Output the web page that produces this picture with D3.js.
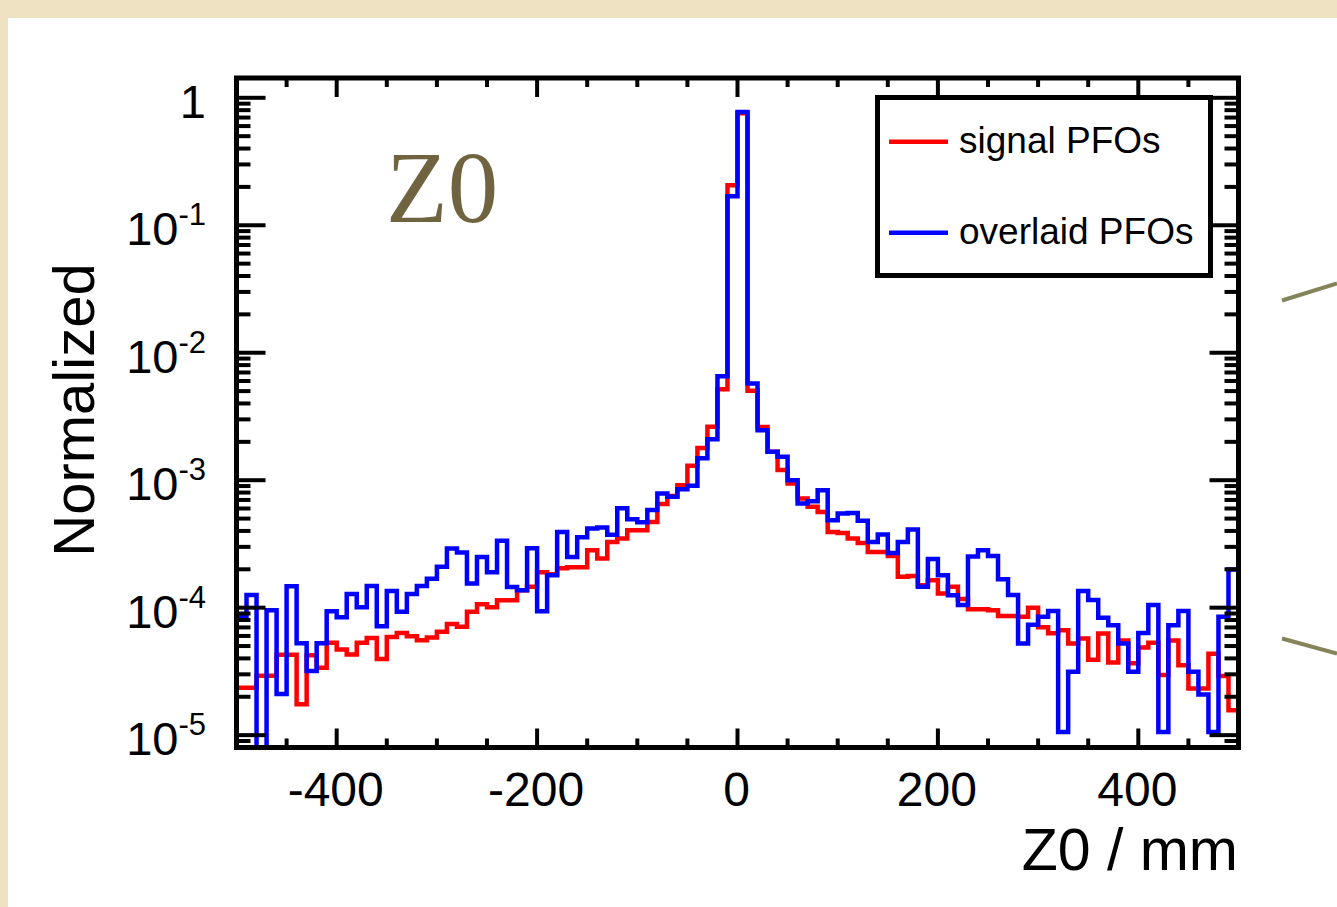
<!DOCTYPE html>
<html>
<head>
<meta charset="utf-8">
<script src="https://cdn.jsdelivr.net/npm/d3@7"></script>
<style>
  html, body { margin: 0; padding: 0; background: #efe2c2; }
  svg { display: block; }
</style>
</head>
<body>
<svg id="canvas" width="1337" height="907"></svg>
<script>
// Z0 histogram, 100 bins of 10 mm from -500 to 500 (normalized)

let zMin = -500
let zMax = 500
let binWidth = 10

let signalPFOs = [
  2.35e-5, 2.35e-5, 2.92e-5, 2.92e-5, 4.28e-5, 4.28e-5, 1.75e-5, 4.24e-5, 3.38e-5, 5.30e-5,
  4.70e-5, 4.30e-5, 5.30e-5, 5.77e-5, 3.96e-5, 5.90e-5, 6.34e-5, 5.97e-5, 5.56e-5, 5.84e-5,
  6.46e-5, 7.43e-5, 7.07e-5, 9.27e-5, 1.065e-4, 1.01e-4, 1.145e-4, 1.145e-4, 1.37e-4, 1.46e-4,
  1.90e-4, 1.83e-4, 2.04e-4, 2.08e-4, 2.08e-4, 2.82e-4, 2.43e-4, 3.28e-4, 3.49e-4, 4.05e-4,
  4.05e-4, 4.71e-4, 6.52e-4, 7.52e-4, 9.14e-4, 1.30e-3, 1.79e-3, 2.63e-3, 5.17e-3, 0.206,
  0.755, 5.04e-3, 2.62e-3, 1.67e-3, 1.20e-3, 9.42e-4, 7.18e-4, 6.18e-4, 5.64e-4, 3.93e-4,
  3.86e-4, 3.49e-4, 3.22e-4, 2.74e-4, 2.74e-4, 2.54e-4, 1.75e-4, 1.77e-4, 1.50e-4, 1.64e-4,
  1.29e-4, 1.46e-4, 1.17e-4, 9.73e-5, 9.70e-5, 9.55e-5, 8.61e-5, 8.61e-5, 8.47e-5, 1.00e-4,
  7.03e-5, 6.31e-5, 6.66e-5, 5.24e-5, 5.73e-5, 3.90e-5, 6.28e-5, 3.72e-5, 5.53e-5, 3.67e-5,
  4.88e-5, 5.30e-5, 2.96e-5, 5.53e-5, 3.54e-5, 2.32e-5, 2.32e-5, 4.35e-5, 2.91e-5, 1.57e-5
]

let overlaidPFOs = [
  8.47e-5, 1.26e-4, 0, 9.55e-5, 2.10e-5, 1.47e-4, 5.27e-5, 3.18e-5, 5.27e-5, 9.39e-5,
  8.42e-5, 1.28e-4, 1.01e-4, 1.48e-4, 7.16e-5, 1.35e-4, 9.27e-5, 1.28e-4, 1.48e-4, 1.69e-4,
  2.09e-4, 2.91e-4, 2.71e-4, 1.55e-4, 2.50e-4, 1.90e-4, 3.35e-4, 1.45e-4, 1.37e-4, 2.93e-4,
  9.39e-5, 1.80e-4, 3.93e-4, 2.50e-4, 3.57e-4, 4.18e-4, 4.26e-4, 3.74e-4, 6.03e-4, 4.94e-4,
  4.67e-4, 5.85e-4, 7.87e-4, 7.43e-4, 8.50e-4, 9.06e-4, 1.49e-3, 2.10e-3, 6.55e-3, 0.169,
  0.774, 5.73e-3, 2.47e-3, 1.67e-3, 1.53e-3, 1.00e-3, 6.56e-4, 6.84e-4, 8.35e-4, 4.86e-4,
  5.48e-4, 5.54e-4, 4.80e-4, 3.28e-4, 3.75e-4, 2.69e-4, 3.28e-4, 4.10e-4, 1.46e-4, 2.41e-4,
  1.80e-4, 1.25e-4, 1.05e-4, 2.52e-4, 2.82e-4, 2.54e-4, 1.67e-4, 1.26e-4, 5.24e-5, 7.36e-5,
  8.47e-5, 9.42e-5, 1.06e-5, 3.14e-5, 1.35e-4, 1.15e-4, 8.32e-5, 7.29e-5, 5.24e-5, 3.14e-5,
  6.34e-5, 1.05e-4, 1.06e-5, 7.29e-5, 9.42e-5, 3.14e-5, 2.08e-5, 1.06e-5, 8.47e-5, 1.99e-4
]

let xTickValues = [-400, -200, 0, 200, 400]
let yTickValues = [1, 1e-1, 1e-2, 1e-3, 1e-4, 1e-5]
let yTickLabels = ['1', '10|-1', '10|-2', '10|-3', '10|-4', '10|-5']

let legendNames = ['signal PFOs', 'overlaid PFOs']
let legendColors = ['#ff0000', '#0000ff']

let yMin = 8.0e-6
let yMax = 1.43

let canvas = d3.select('#canvas')

// white slide area
canvas.append('rect')
  .attr('x', 8).attr('y', 18)
  .attr('width', 1329).attr('height', 889)
  .attr('fill', '#ffffff')

let plot = { left: 236.5, right: 1238.5, top: 78, bottom: 747.5 }

let xScale = d3.scaleLinear()
  .domain([zMin, zMax])
  .range([plot.left, plot.right])

let yScale = d3.scaleLog()
  .domain([yMin, yMax])
  .range([plot.bottom, plot.top])

canvas.append('clipPath').attr('id', 'plotClip')
  .append('rect')
  .attr('x', plot.left).attr('y', plot.top)
  .attr('width', plot.right - plot.left)
  .attr('height', plot.bottom - plot.top)

// step outline of a histogram
let stepPoints = (values) => {
  let pts = [[xScale(zMin), yScale(yMin)]]
  values.forEach((v, i) => {
    let lo = zMin + i * binWidth
    let yy = yScale(Math.max(v, yMin))
    pts.push([xScale(lo), yy])
    pts.push([xScale(lo + binWidth), yy])
  })
  pts.push([xScale(zMax), yScale(yMin)])
  return pts
}

let line = d3.line()

let hists = canvas.append('g').attr('clip-path', 'url(#plotClip)')
;[signalPFOs, overlaidPFOs].forEach((values, k) => {
  hists.append('path')
    .attr('d', line(stepPoints(values)))
    .attr('fill', 'none')
    .attr('stroke', legendColors[k])
    .attr('stroke-width', 4.5)
    .attr('stroke-linejoin', 'miter')
})

// ticks (ROOT style, on all four sides)
let ticks = canvas.append('g').attr('stroke', '#000').attr('stroke-width', 4)

d3.range(zMin, zMax + 1, 50).forEach((v) => {
  let len = v % 200 === 0 ? 19 : 9
  let xx = xScale(v)
  ticks.append('line').attr('x1', xx).attr('x2', xx)
    .attr('y1', plot.bottom).attr('y2', plot.bottom - len)
  ticks.append('line').attr('x1', xx).attr('x2', xx)
    .attr('y1', plot.top).attr('y2', plot.top + len)
})

yScale.ticks().forEach((v) => {
  let mant = v / Math.pow(10, Math.floor(Math.log10(v) + 1e-9))
  let major = Math.abs(mant - 1) < 1e-6
  let len = major ? 29 : 14
  let yy = yScale(v)
  ticks.append('line').attr('x1', plot.left).attr('x2', plot.left + len)
    .attr('y1', yy).attr('y2', yy)
  ticks.append('line').attr('x1', plot.right).attr('x2', plot.right - len)
    .attr('y1', yy).attr('y2', yy)
})

// frame
canvas.append('rect')
  .attr('x', plot.left).attr('y', plot.top)
  .attr('width', plot.right - plot.left)
  .attr('height', plot.bottom - plot.top)
  .attr('fill', 'none')
  .attr('stroke', '#000')
  .attr('stroke-width', 5)

let font = "'Liberation Sans', Arial, Helvetica, sans-serif"

// x tick labels
canvas.append('g').selectAll('text')
  .data(xTickValues)
  .enter()
  .append('text')
  .attr('x', (d) => xScale(d) - 1)
  .attr('y', 806)
  .attr('text-anchor', 'middle')
  .attr('font-family', font)
  .attr('font-size', 48)
  .text((d) => d)

// y tick labels with superscript exponents
yTickValues.forEach((v, i) => {
  let parts = yTickLabels[i].split('|')
  let t = canvas.append('text')
    .attr('x', 206)
    .attr('y', yScale(v) + 20)
    .attr('text-anchor', 'end')
    .attr('font-family', font)
    .attr('font-size', 47)
  t.append('tspan').text(parts[0])
  if (parts[1]) {
    t.append('tspan')
      .attr('font-size', 31)
      .attr('dy', -20)
      .text(parts[1])
  }
})

// axis titles
canvas.append('text')
  .attr('transform', 'translate(94, 410) rotate(-90)')
  .attr('text-anchor', 'middle')
  .attr('font-family', font)
  .attr('font-size', 58)
  .text('Normalized')

canvas.append('text')
  .attr('x', 1238)
  .attr('y', 870)
  .attr('text-anchor', 'end')
  .attr('font-family', font)
  .attr('font-size', 59)
  .text('Z0 / mm')

// Z0 annotation
canvas.append('text')
  .attr('x', 386)
  .attr('y', 222)
  .attr('font-family', "'Liberation Serif', 'Times New Roman', serif")
  .attr('font-size', 101)
  .attr('fill', '#706340')
  .text('Z0')

// legend
let legend = canvas.append('g')
legend.append('rect')
  .attr('x', 877.5).attr('y', 97.5)
  .attr('width', 333).attr('height', 178)
  .attr('fill', '#fff')
  .attr('stroke', '#000')
  .attr('stroke-width', 5)

legendNames.forEach((name, i) => {
  let yy = 141.7 + i * 91
  legend.append('line')
    .attr('x1', 889).attr('x2', 948)
    .attr('y1', yy).attr('y2', yy)
    .attr('stroke', legendColors[i])
    .attr('stroke-width', 4.5)
  legend.append('text')
    .attr('x', 959)
    .attr('y', yy + 11)
    .attr('font-family', font)
    .attr('font-size', 37)
    .text(name)
})

// callout lines at the right edge of the slide
let callouts = [[[1282, 300.5], [1337, 283.5]], [[1282, 638.5], [1337, 653.5]]]
callouts.forEach((seg) => {
  canvas.append('line')
    .attr('x1', seg[0][0]).attr('y1', seg[0][1])
    .attr('x2', seg[1][0]).attr('y2', seg[1][1])
    .attr('stroke', '#85835a')
    .attr('stroke-width', 4)
})
</script>
</body>
</html>
